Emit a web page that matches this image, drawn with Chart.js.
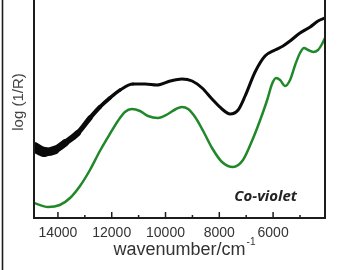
<!DOCTYPE html>
<html>
<head>
<meta charset="utf-8">
<script src="https://cdn.jsdelivr.net/npm/chart.js@4/dist/chart.umd.min.js"></script>
<style>
  body { margin: 0; background: #fff; }
  #chart { display: block; }
</style>
</head>
<body>
<canvas id="chart" width="342" height="270"></canvas>
<script>
// spectra (wavenumber in cm-1, log(1/R) in arbitrary units)
var blackWavenumbers = [14890, 14480, 14110, 13740, 13260, 12810, 12440, 12070, 11690, 11210,
  10760, 10320, 9830, 9390, 9010, 8640, 8270, 7900, 7600, 7300,
  7040, 6670, 6300, 5930, 5630, 5370, 5000, 4620, 4330, 4070];
var blackValues = [0.71, 0.66, 0.68, 0.75, 0.85, 1.00, 1.11, 1.20, 1.28, 1.34,
  1.34, 1.33, 1.37, 1.39, 1.37, 1.30, 1.19, 1.09, 1.04, 1.08,
  1.22, 1.46, 1.62, 1.68, 1.72, 1.77, 1.85, 1.91, 1.97, 2.00];

var greenWavenumbers = [14890, 14370, 13930, 13550, 13180, 12810, 12440, 12070, 11770, 11510,
  11250, 10950, 10650, 10280, 9910, 9610, 9390, 9160, 8900, 8600,
  8270, 7900, 7490, 7120, 6740, 6480, 6220, 6040, 5890, 5740,
  5550, 5370, 5180, 5000, 4850, 4700, 4510, 4330, 4180, 4070];
var greenValues = [0.15, 0.11, 0.13, 0.20, 0.32, 0.48, 0.67, 0.84, 0.97, 1.06,
  1.09, 1.07, 1.02, 1.00, 1.04, 1.09, 1.11, 1.09, 1.01, 0.87,
  0.70, 0.56, 0.51, 0.58, 0.80, 0.98, 1.18, 1.34, 1.40, 1.38,
  1.32, 1.38, 1.53, 1.65, 1.70, 1.68, 1.66, 1.68, 1.74, 1.80];

var tickLabels = [14000, 12000, 10000, 8000, 6000];
var minorTicks = [13000, 11000, 9000, 7000, 5000];
var xTitle = "wavenumber/cm";
var xTitleSup = "-1";
var yTitle = "log (1/R)";
var sampleName = "Co-violet";

function toPoints(xs, ys) {
  return xs.map(function (x, i) { return { x: x, y: ys[i] }; });
}

// frame, inward tick marks, axis titles and sample label
var decorations = {
  id: "decorations",
  afterDraw: function (chart) {
    var ctx = chart.ctx;
    var area = chart.chartArea;
    var xs = chart.scales.x;
    ctx.save();
    ctx.strokeStyle = "#1c1c1c";
    ctx.lineWidth = 1.6;
    // outer left line of the cropped figure
    ctx.beginPath();
    ctx.moveTo(2.5, 0);
    ctx.lineTo(2.5, 270);
    ctx.stroke();
    // plot frame (no top edge visible)
    ctx.lineWidth = 2;
    ctx.beginPath();
    ctx.moveTo(area.left, 0);
    ctx.lineTo(area.left, area.bottom);
    ctx.lineTo(area.right, area.bottom);
    ctx.lineTo(area.right, 0);
    ctx.stroke();
    // ticks pointing into the plot
    ctx.lineWidth = 1.5;
    tickLabels.forEach(function (v) {
      var px = xs.getPixelForValue(v);
      ctx.beginPath();
      ctx.moveTo(px, area.bottom);
      ctx.lineTo(px, area.bottom - 6);
      ctx.stroke();
    });
    minorTicks.forEach(function (v) {
      var px = xs.getPixelForValue(v);
      ctx.beginPath();
      ctx.moveTo(px, area.bottom);
      ctx.lineTo(px, area.bottom - 3);
      ctx.stroke();
    });
    // x title with superscript
    ctx.fillStyle = "#333";
    ctx.font = "18px 'Liberation Sans', Arial, sans-serif";
    ctx.textBaseline = "alphabetic";
    var w = ctx.measureText(xTitle).width;
    ctx.font = "10px 'Liberation Sans', Arial, sans-serif";
    var ws = ctx.measureText(xTitleSup).width;
    var startX = 184 - (w + ws) / 2;
    ctx.font = "18px 'Liberation Sans', Arial, sans-serif";
    ctx.textAlign = "left";
    ctx.fillText(xTitle, startX, 255);
    ctx.font = "10px 'Liberation Sans', Arial, sans-serif";
    ctx.fillText(xTitleSup, startX + w + 1, 245);
    // y title
    ctx.save();
    ctx.translate(19, 102);
    ctx.rotate(-Math.PI / 2);
    ctx.font = "15px 'Liberation Sans', Arial, sans-serif";
    ctx.textAlign = "center";
    ctx.textBaseline = "middle";
    ctx.fillStyle = "#444";
    ctx.fillText(yTitle, 0, 0);
    ctx.restore();
    // sample name
    ctx.font = "bold italic 15px 'Open Sans', 'Liberation Sans', sans-serif";
    ctx.textAlign = "right";
    ctx.textBaseline = "middle";
    ctx.fillStyle = "#222";
    ctx.fillText(sampleName, 297, 197);
    ctx.restore();
  }
};

// the measured trace is noisy at high wavenumber: widen the stroke there
function blackWidth(ctx) {
  var x = (ctx.p0.parsed.x + ctx.p1.parsed.x) / 2;
  var t = Math.max(0, (x - 11000) / (14890 - 11000));
  return 3 + 8 * t * t;
}

new Chart(document.getElementById("chart"), {
  type: "line",
  data: {
    datasets: [
      {
        label: "Co-violet",
        data: toPoints(blackWavenumbers, blackValues),
        borderColor: "#0a0a0a",
        borderWidth: 3,
        borderCapStyle: "round",
        borderJoinStyle: "round",
        pointRadius: 0,
        cubicInterpolationMode: "monotone",
        segment: { borderWidth: blackWidth }
      },
      {
        label: "fit",
        data: toPoints(greenWavenumbers, greenValues),
        borderColor: "#21882a",
        borderWidth: 2.5,
        pointRadius: 0,
        cubicInterpolationMode: "monotone"
      }
    ]
  },
  options: {
    responsive: false,
    animation: false,
    layout: { padding: { left: 34, right: 17, top: 0, bottom: 0 } },
    plugins: { legend: { display: false }, tooltip: { enabled: false } },
    scales: {
      x: {
        type: "linear",
        reverse: true,
        min: 4070,
        max: 14890,
        afterBuildTicks: function (scale) {
          scale.ticks = tickLabels.map(function (v) { return { value: v }; });
        },
        afterFit: function (scale) { scale.height = 52; },
        grid: { display: false, drawTicks: false },
        border: { display: false },
        ticks: {
          autoSkip: false,
          maxRotation: 0,
          padding: 7,
          color: "#333",
          font: { family: "'Liberation Sans', Arial, sans-serif", size: 14 },
          callback: function (v) { return String(v); }
        }
      },
      y: {
        display: false,
        min: 0,
        max: 2.18
      }
    }
  },
  plugins: [decorations]
});
</script>
</body>
</html>
